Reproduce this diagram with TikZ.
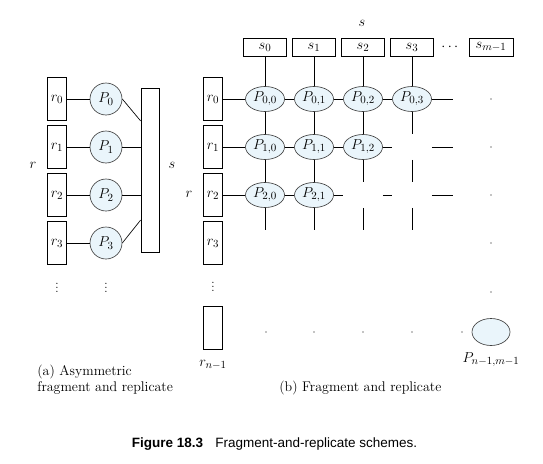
\documentclass[tikz,border=0pt]{standalone}
\usepackage{amsmath}
\usepackage{fontspec}
\newfontfamily\capfont{Liberation Sans}
\usepackage{tikz}
\usetikzlibrary{shapes}

\definecolor{procfill}{HTML}{EAF5FB}
\tikzset{
        frag/.style={draw, minimum width=19pt, minimum height=43pt, inner sep=0pt},
        sfrag/.style={draw, minimum width=43pt, minimum height=18pt, inner sep=0pt},
        proc/.style={draw=black!75, fill=procfill, circle, minimum size=32pt, inner sep=0pt},
        procb/.style={draw=black!75, fill=procfill, ellipse, minimum width=39pt, minimum height=25pt, inner sep=0pt},
        ghost/.style={ellipse, minimum width=39pt, minimum height=25pt, inner sep=0pt},
        dotmark/.style={circle, fill, inner sep=0pt, minimum size=1.4pt},
        captext/.style={inner sep=0pt, font=\fontsize{14}{16}\selectfont}
}

\begin{document}
\begin{tikzpicture}[x=1pt, y=-1pt, line width=0.65pt, font=\fontsize{15}{17}\selectfont]
        \useasboundingbox (0,0) rectangle (543,463);
        % (a) asymmetric
        \foreach \i in {0,...,3} {
                \node[frag] (ra\i) at (57,{99+48*\i}) {$r_\i$};
                \node[proc] (pa\i) at (106,{99+48*\i}) {$P_\i$};
                \draw (ra\i) -- (pa\i);
        }
        \node[draw, minimum width=18pt, minimum height=164pt, inner sep=0pt] (sa) at (150,170) {};
        \node (rla) at (33,165) {$r$};
        \node (sla) at (172,165) {$s$};
        \node (vra) at (57,285) {$\vdots$};
        \node (vpa) at (106,285) {$\vdots$};
        \draw (pa0.east) -- ([yshift=-22pt]pa0.east -| sa.west);
        \draw (pa1.east) -- (pa1.east -| sa.west);
        \draw (pa2.east) -- (pa2.east -| sa.west);
        \draw (pa3.east) -- ([yshift=23pt]pa3.east -| sa.west);

        % (b) fragment and replicate
        \foreach \j in {0,...,3}
                \node[sfrag] (sb\j) at ({265+49*\j},47) {$s_\j$};
        \node[sfrag, minimum width=44pt] (sbm) at (491,47) {$s_{m-1}$};
        \node (sdots) at (451,47) {$\cdots$};
        \node (slb) at (362,23) {$s$};
        \foreach \i in {0,...,3}
                \node[frag] (rb\i) at (213,{99+48*\i}) {$r_\i$};
        \node[frag] (rbn) at (213,328) {};
        \node (rbnl) at (213,365) {$r_{n-1}$};
        \node (rbdots) at (213,284) {$\vdots$};
        \node (rlb) at (189,194) {$r$};

        \foreach \i/\j in {0/0,0/1,0/2,0/3,1/0,1/1,1/2,2/0,2/1}
                \node[procb] (p\i\j) at ({265+49*\j},{99+48*\i}) {$P_{\i,\j}$};
        \foreach \i/\j in {1/3,2/2,2/3,3/0,3/1,3/2,3/3}
                \node[ghost] (p\i\j) at ({265+49*\j},{99+48*\i}) {};

        \foreach \j in {0,...,3} {
                \draw (sb\j) -- (p0\j);
                \draw (p0\j) -- (p1\j);
                \draw (p1\j) -- (p2\j);
                \draw (p2\j) -- (p3\j);
        }
        \foreach \i in {0,1,2} {
                \draw (rb\i) -- (p\i0);
                \draw (p\i0) -- (p\i1);
                \draw (p\i1) -- (p\i2);
                \draw (p\i2) -- (p\i3);
                \draw (p\i3.east) -- +(21,0);
        }

        \foreach \y [count=\k] in {99,147,195,243,292}
                \node[dotmark] (dr\k) at (491,\y) {};
        \foreach \x [count=\k] in {266,314,363,412,462}
                \node[dotmark] (db\k) at (\x,332) {};
        \node[procb, minimum width=38pt, minimum height=27pt] (pnm) at (491,332) {};
        \node (pnml) at (491,360) {$P_{n-1,m-1}$};

        % captions
        \node[captext, anchor=base west, align=left] (capa) at (37,391) {(a) Asymmetric\\fragment and replicate};
        \node[captext, anchor=base west] (capb) at (279,391) {(b) Fragment and replicate};
        \node[anchor=base, inner sep=0pt, font=\capfont\fontsize{13.5}{16}\selectfont] (fig) at (274.5,447)
                {\textbf{Figure 18.3}\hspace{0.9em}Fragment-and-replicate schemes.};
\end{tikzpicture}
\end{document}
